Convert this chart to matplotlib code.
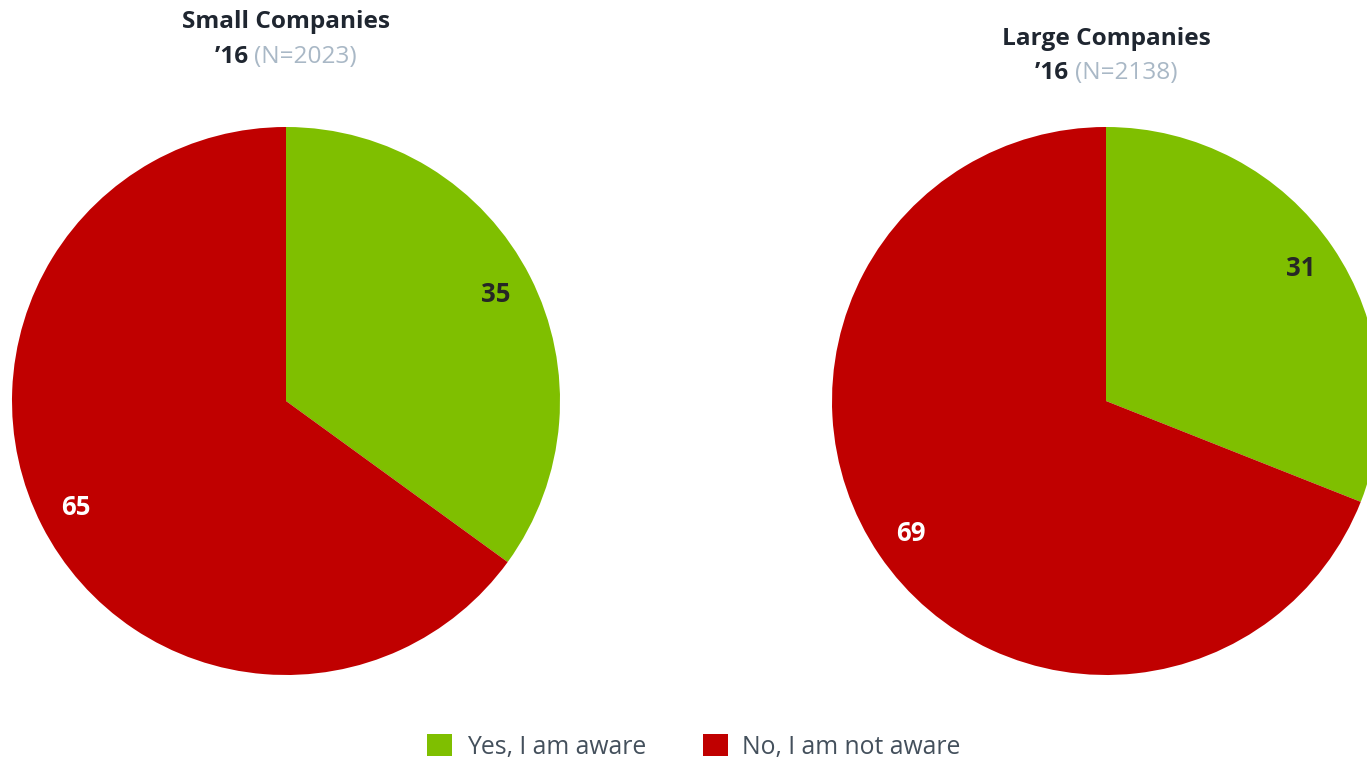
import matplotlib
matplotlib.use("Agg")
import matplotlib.pyplot as plt
from matplotlib.patches import Patch

plt.rcParams['font.family'] = ['Open Sans', 'DejaVu Sans']

categories = ["Yes, I am aware", "No, I am not aware"]
colors = ["#7FBF00", "#C00000"]
small_values = [35, 65]
large_values = [31, 69]
titles = ["Small Companies", "Large Companies"]
years = ["\u201916", "\u201916"]
ns = ["(N=2023)", "(N=2138)"]

W, H = 1367, 759
fig = plt.figure(figsize=(W / 100, H / 100), dpi=100)
ax = fig.add_axes([0, 0, 1, 1])
ax.set_xlim(0, W)
ax.set_ylim(0, H)
ax.set_aspect('equal')
ax.axis('off')

pies = [(small_values, (286, H - 401)), (large_values, (1106, H - 401))]
for vals, c in pies:
    wedges, texts, autotexts = ax.pie(
        vals, colors=colors, startangle=90, counterclock=False,
        center=c, radius=274, autopct=lambda p: f"{p:.0f}", pctdistance=0.86,
        wedgeprops=dict(linewidth=0), frame=True)
    for i, t in enumerate(autotexts):
        t.set_fontsize(18.5)
        t.set_fontweight('bold')
        t.set_color('#262626' if i == 0 else 'white')

ax.set_xlim(0, W)
ax.set_ylim(0, H)
ax.axis('off')

title_pos = [(286, 22, 57), (1106, 39, 73)]
fig.canvas.draw()
r = fig.canvas.get_renderer()
for (cx, y1, y2), title, yr, n in zip(title_pos, titles, years, ns):
    ax.text(cx, H - y1, title, ha='center', va='center', fontsize=17.6,
            fontweight='bold', color='#1F2630')
    t1 = ax.text(0, H - y2, yr + " ", ha='left', va='center', fontsize=17.6,
                 fontweight='bold', color='#1F2630')
    t2 = ax.text(0, H - y2, n, ha='left', va='center', fontsize=17.6,
                 color='#A9B8C6')
    w1 = t1.get_window_extent(r).width
    w2 = t2.get_window_extent(r).width
    x0 = cx - (w1 + w2) / 2
    t1.set_x(x0)
    t2.set_x(x0 + w1)

handles = [Patch(facecolor=c, edgecolor='none') for c in colors]
fig.legend(handles, categories, loc='center', bbox_to_anchor=(694 / W, 1 - 747 / H),
           ncol=2, frameon=False, fontsize=17.8, labelcolor='#44505C',
           handlelength=1.0, handleheight=1.0, handletextpad=0.6, columnspacing=2.3)

fig.savefig("out.png", dpi=100)
